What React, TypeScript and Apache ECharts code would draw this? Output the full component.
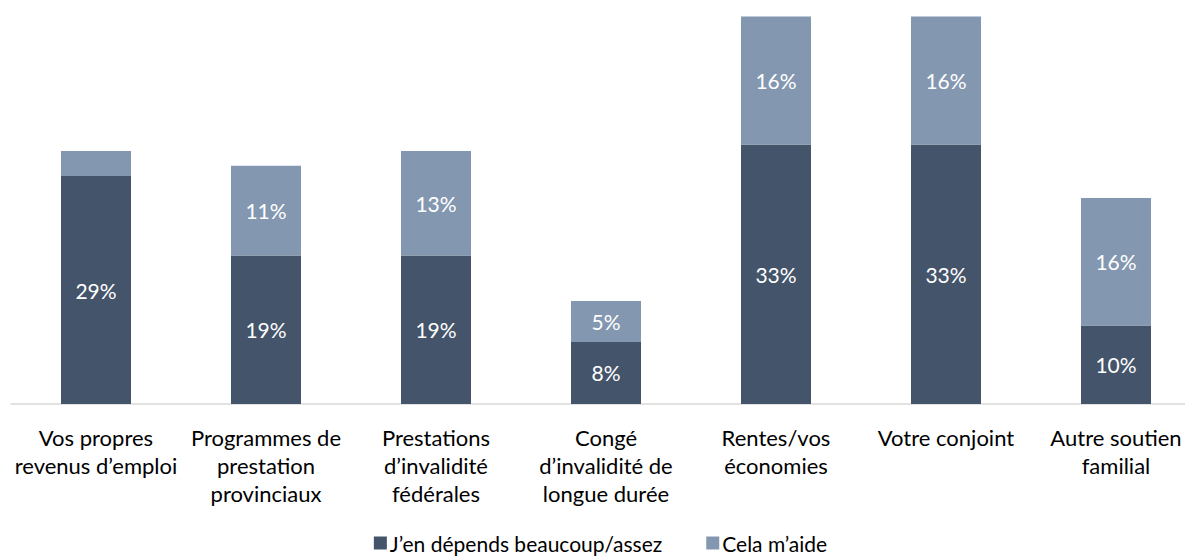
import React, { useEffect, useRef } from "react";
import * as echarts from "echarts";

const categories = [
  "Vos propres\nrevenus d’emploi",
  "Programmes de\nprestation\nprovinciaux",
  "Prestations\nd’invalidité\nfédérales",
  "Congé\nd’invalidité de\nlongue durée",
  "Rentes/vos\néconomies",
  "Votre conjoint",
  "Autre soutien\nfamilial",
];
const seriesNames = ["J’en dépends beaucoup/assez", "Cela m’aide"];
const dependsValues = [29, 18.9, 18.9, 7.9, 33, 33, 10];
const helpsValues = [3.2, 11.4, 13.3, 5.2, 16.3, 16.3, 16.2];
const hiddenHelpLabels = [true, false, false, false, false, false, false];

const FONT = "Lato, 'Open Sans', sans-serif";

export default function App() {
  const ref = useRef<HTMLDivElement>(null);
  useEffect(() => {
    if (!ref.current) return;
    const chart = echarts.init(ref.current, undefined, { renderer: "svg" });
    const labelCfg = {
      show: true,
      position: "inside",
      color: "#ffffff",
      fontSize: 21,
      fontFamily: FONT,
      formatter: (p: any) => `${Math.round(p.value)}%`,
    };
    chart.setOption({
      animation: false,
      textStyle: { fontFamily: FONT },
      grid: { left: 11, right: 0, top: 11, bottom: 153, containLabel: false },
      legend: {
        top: 532,
        left: "center",
        icon: "rect",
        itemWidth: 13,
        itemHeight: 13,
        itemGap: 44,
        padding: 0,
        textStyle: {
          fontSize: 21,
          lineHeight: 22,
          color: "#000",
          fontFamily: FONT,
          padding: [0, 0, 0, -2],
        },
        data: seriesNames,
      },
      xAxis: {
        type: "category",
        data: categories,
        axisLine: { show: true, lineStyle: { color: "#d9d9d9", width: 1.5 } },
        axisTick: { show: false },
        axisLabel: {
          interval: 0,
          margin: 19,
          fontSize: 22,
          lineHeight: 28,
          color: "#000",
          fontFamily: FONT,
          align: "center",
        },
      },
      yAxis: {
        type: "value",
        min: 0,
        max: 50,
        show: false,
        splitLine: { show: false },
      },
      series: [
        {
          name: seriesNames[0],
          type: "bar",
          stack: "total",
          barWidth: 70,
          itemStyle: { color: "#44546A" },
          label: labelCfg,
          data: dependsValues,
        },
        {
          name: seriesNames[1],
          type: "bar",
          stack: "total",
          barWidth: 70,
          itemStyle: { color: "#8497B0" },
          label: labelCfg,
          data: helpsValues.map((v, i) =>
            hiddenHelpLabels[i] ? { value: v, label: { show: false } } : v
          ),
        },
      ],
    });
    return () => chart.dispose();
  }, []);
  return (
    <div
      style={{
        position: "fixed",
        left: 0,
        top: 0,
        width: 1185,
        height: 557,
        overflow: "hidden",
        background: "#fff",
      }}
    >
      <div ref={ref} style={{ width: 1201, height: 557 }} />
    </div>
  );
}
